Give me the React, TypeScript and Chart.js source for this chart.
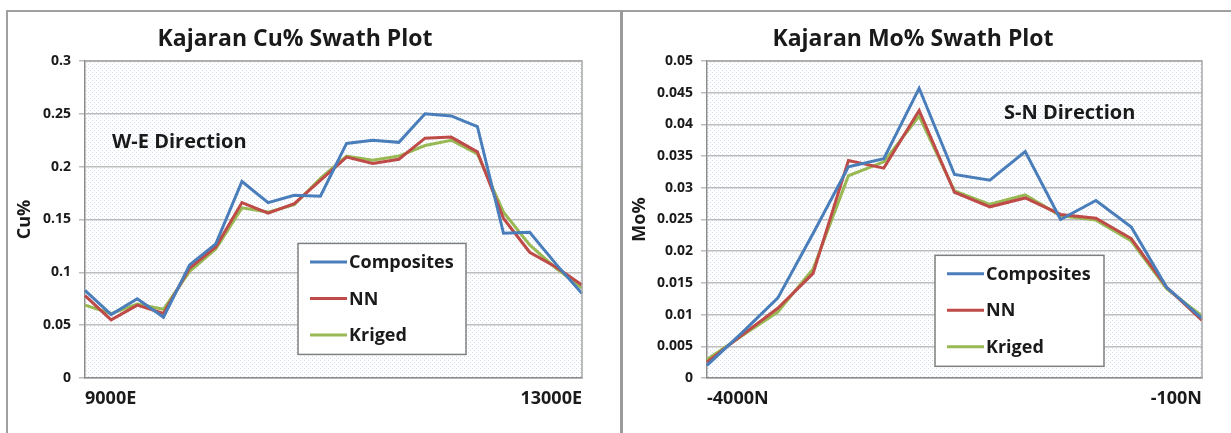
import React, { useEffect, useRef } from 'react';
import { Chart, registerables } from 'chart.js';

Chart.register(...registerables);

// ---------- data ----------
const cuAxisLabels = ['9000E', '13000E'];
const cuComposites = [0.083, 0.060, 0.075, 0.0575, 0.107, 0.127, 0.186, 0.166, 0.173, 0.172, 0.222, 0.225, 0.223, 0.250, 0.248, 0.238, 0.137, 0.138, 0.108, 0.080];
const cuNN = [0.078, 0.055, 0.069, 0.061, 0.104, 0.124, 0.166, 0.156, 0.165, 0.187, 0.209, 0.203, 0.207, 0.227, 0.228, 0.214, 0.151, 0.119, 0.105, 0.088];
const cuKriged = [0.069, 0.061, 0.070, 0.065, 0.101, 0.122, 0.161, 0.157, 0.164, 0.189, 0.210, 0.206, 0.210, 0.220, 0.225, 0.212, 0.157, 0.126, 0.104, 0.085];
const cuTicks = [0, 0.05, 0.1, 0.15, 0.2, 0.25, 0.3];

const moAxisLabels = ['-4000N', '-100N'];
const moComposites = [0.0020, 0.0072, 0.0126, 0.0228, 0.0333, 0.0346, 0.0457, 0.0321, 0.0312, 0.0357, 0.0250, 0.0280, 0.0238, 0.0143, 0.0094];
const moNN = [0.0025, 0.0068, 0.0110, 0.0165, 0.0343, 0.0331, 0.0422, 0.0293, 0.0270, 0.0284, 0.0258, 0.0252, 0.0220, 0.0143, 0.0091];
const moKriged = [0.0029, 0.0067, 0.0104, 0.0172, 0.0319, 0.0341, 0.0413, 0.0295, 0.0274, 0.0289, 0.0256, 0.0249, 0.0216, 0.0141, 0.0098];
const moTicks = [0, 0.005, 0.01, 0.015, 0.02, 0.025, 0.03, 0.035, 0.04, 0.045, 0.05];

const seriesNames = ['Composites', 'NN', 'Kriged'];
const seriesColors = ['#4A7EBB', '#BE4B48', '#98B954'];

const FONT = '"Open Sans", "DejaVu Sans", sans-serif';
const TEXT = '#1a1a1a';

// ---------- plugins ----------
let patternCache: CanvasPattern | null = null;
function getPattern(ctx: CanvasRenderingContext2D) {
  if (patternCache) return patternCache;
  const c = document.createElement('canvas');
  c.width = 4;
  c.height = 4;
  const p = c.getContext('2d')!;
  p.fillStyle = '#ffffff';
  p.fillRect(0, 0, 4, 4);
  p.fillStyle = '#cfdcef';
  p.fillRect(0, 0, 1, 1);
  p.fillRect(2, 2, 1, 1);
  patternCache = ctx.createPattern(c, 'repeat');
  return patternCache;
}

const plotFrame = {
  id: 'plotFrame',
  beforeDraw(chart: any) {
    const { ctx, chartArea: a } = chart;
    ctx.save();
    ctx.fillStyle = getPattern(ctx);
    ctx.fillRect(a.left, a.top, a.right - a.left, a.bottom - a.top);
    ctx.restore();
  },
  afterDraw(chart: any) {
    const { ctx, chartArea: a } = chart;
    ctx.save();
    ctx.strokeStyle = '#a6a6a6';
    ctx.lineWidth = 1.5;
    ctx.beginPath();
    ctx.moveTo(a.left, a.top);
    ctx.lineTo(a.right, a.top);
    ctx.lineTo(a.right, a.bottom);
    ctx.stroke();
    ctx.restore();
  },
};

const boxLegend = {
  id: 'boxLegend',
  afterDatasetsDraw(chart: any, _args: any, opts: any) {
    const { ctx, chartArea: a } = chart;
    const x = a.left + (a.right - a.left) * opts.x;
    const y = a.top + (a.bottom - a.top) * opts.y;
    ctx.save();
    ctx.fillStyle = '#ffffff';
    ctx.fillRect(x, y, opts.w, opts.h);
    ctx.strokeStyle = '#7f7f7f';
    ctx.lineWidth = 1.5;
    ctx.strokeRect(x, y, opts.w, opts.h);
    ctx.font = `bold 18px ${FONT}`;
    ctx.textBaseline = 'middle';
    chart.data.datasets.forEach((ds: any, i: number) => {
      const cy = y + opts.rowTop + i * opts.rowGap;
      ctx.strokeStyle = ds.borderColor;
      ctx.lineWidth = 3;
      ctx.beginPath();
      ctx.moveTo(x + 12, cy);
      ctx.lineTo(x + 49, cy);
      ctx.stroke();
      ctx.fillStyle = TEXT;
      ctx.fillText(ds.label, x + 51, cy + 1);
    });
    ctx.restore();
  },
};

const noteText = {
  id: 'noteText',
  afterDatasetsDraw(chart: any, _args: any, opts: any) {
    const { ctx, chartArea: a } = chart;
    ctx.save();
    ctx.font = `bold 20px ${FONT}`;
    ctx.fillStyle = TEXT;
    ctx.textBaseline = 'middle';
    ctx.fillText(opts.text, a.left + (a.right - a.left) * opts.x, a.top + (a.bottom - a.top) * opts.y);
    ctx.restore();
  },
};

// ---------- chart panel ----------
type PanelProps = {
  width: number;
  height: number;
  title: string;
  yTitle: string;
  axisLabels: string[];
  series: number[][];
  yTicks: number[];
  yWidth: number;
  padRight: number;
  yTitlePad: number;
  legendPos: { x: number; y: number; w: number; h: number };
  note: { text: string; x: number; y: number };
};

function SwathChart(props: PanelProps) {
  const ref = useRef<HTMLCanvasElement>(null);
  useEffect(() => {
    const n = props.series[0].length;
    const labels = Array.from({ length: n }, (_, i) =>
      i === 0 ? props.axisLabels[0] : i === n - 1 ? props.axisLabels[1] : ''
    );
    const yMax = props.yTicks[props.yTicks.length - 1];
    const chart = new Chart(ref.current!, {
      type: 'line',
      data: {
        labels,
        datasets: props.series.map((d, i) => ({
          label: seriesNames[i],
          data: d,
          borderColor: seriesColors[i],
          backgroundColor: seriesColors[i],
          borderWidth: 3,
          pointRadius: 0,
          tension: 0,
          fill: false,
        })),
      },
      plugins: [plotFrame, boxLegend, noteText],
      options: {
        responsive: false,
        animation: false,
        layout: { padding: { left: 0, right: props.padRight, top: 0, bottom: 20 } },
        plugins: {
          legend: { display: false },
          tooltip: { enabled: false },
          title: {
            display: true,
            text: props.title,
            color: TEXT,
            font: { family: FONT, size: 23, weight: 'bold', lineHeight: '27px' },
            padding: { top: 14, bottom: 8 },
          },
          boxLegend: { ...props.legendPos, rowTop: 18.5, rowGap: 36.5 },
          noteText: props.note,
        } as any,
        scales: {
          x: {
            type: 'category',
            offset: false,
            grid: { display: false, drawTicks: false },
            border: { display: true, color: '#8c8c8c', width: 1.5 },
            ticks: {
              autoSkip: false,
              maxRotation: 0,
              align: 'inner',
              padding: 10,
              color: TEXT,
              font: { family: FONT, size: 18, weight: 'bold' },
            },
            afterFit: (scale: any) => {
              scale.height = 35;
            },
          },
          y: {
            type: 'linear',
            min: 0,
            max: yMax,
            afterBuildTicks: (scale: any) => {
              scale.ticks = props.yTicks.map((v) => ({ value: v }));
            },
            afterFit: (scale: any) => {
              scale.width = props.yWidth;
            },
            grid: { color: '#bdbdbd', lineWidth: 1.5, tickLength: 6, drawTicks: true },
            border: { display: true, color: '#8c8c8c', width: 1.5 },
            ticks: {
              padding: 8,
              color: TEXT,
              font: { family: FONT, size: 14, weight: 'bold' },
              callback: (v: any) => String(+Number(v).toFixed(4)),
            },
            title: {
              display: true,
              text: props.yTitle,
              color: TEXT,
              font: { family: FONT, size: 18, weight: 'bold', lineHeight: '22px' },
              padding: { top: props.yTitlePad, bottom: 0 },
            },
          },
        },
      } as any,
    });
    return () => chart.destroy();
  }, []);
  return <canvas ref={ref} width={props.width} height={props.height} style={{ display: 'block' }} />;
}

export default function App() {
  return (
    <div style={{ position: 'fixed', left: 0, top: 0, width: 1231, height: 433, background: '#fff', overflow: 'hidden' }}>
      <div style={{ position: 'absolute', left: 7, top: 10, width: 1224, height: 2, background: '#a0a0a0' }} />
      <div style={{ position: 'absolute', left: 6, top: 10, width: 2, height: 423, background: '#a0a0a0' }} />
      <div style={{ position: 'absolute', left: 620, top: 10, width: 3, height: 423, background: '#9a9a9a' }} />
      <div style={{ position: 'absolute', left: 8, top: 12 }}>
        <SwathChart
          width={612}
          height={421}
          title="Kajaran Cu% Swath Plot"
          yTitle="Cu%"
          axisLabels={cuAxisLabels}
          series={[cuComposites, cuNN, cuKriged]}
          yTicks={cuTicks}
          yWidth={77}
          padRight={38}
          yTitlePad={6}
          legendPos={{ x: 0.4286, y: 0.5755, w: 168, h: 111 }}
          note={{ text: 'W-E Direction', x: 0.0543, y: 0.258 }}
        />
      </div>
      <div style={{ position: 'absolute', left: 624, top: 12 }}>
        <SwathChart
          width={607}
          height={421}
          title="Kajaran Mo% Swath Plot"
          yTitle="Mo%"
          axisLabels={moAxisLabels}
          series={[moComposites, moNN, moKriged]}
          yTicks={moTicks}
          yWidth={83}
          padRight={29}
          yTitlePad={5}
          legendPos={{ x: 0.4606, y: 0.613, w: 169, h: 111 }}
          note={{ text: 'S-N Direction', x: 0.6, y: 0.165 }}
        />
      </div>
    </div>
  );
}
